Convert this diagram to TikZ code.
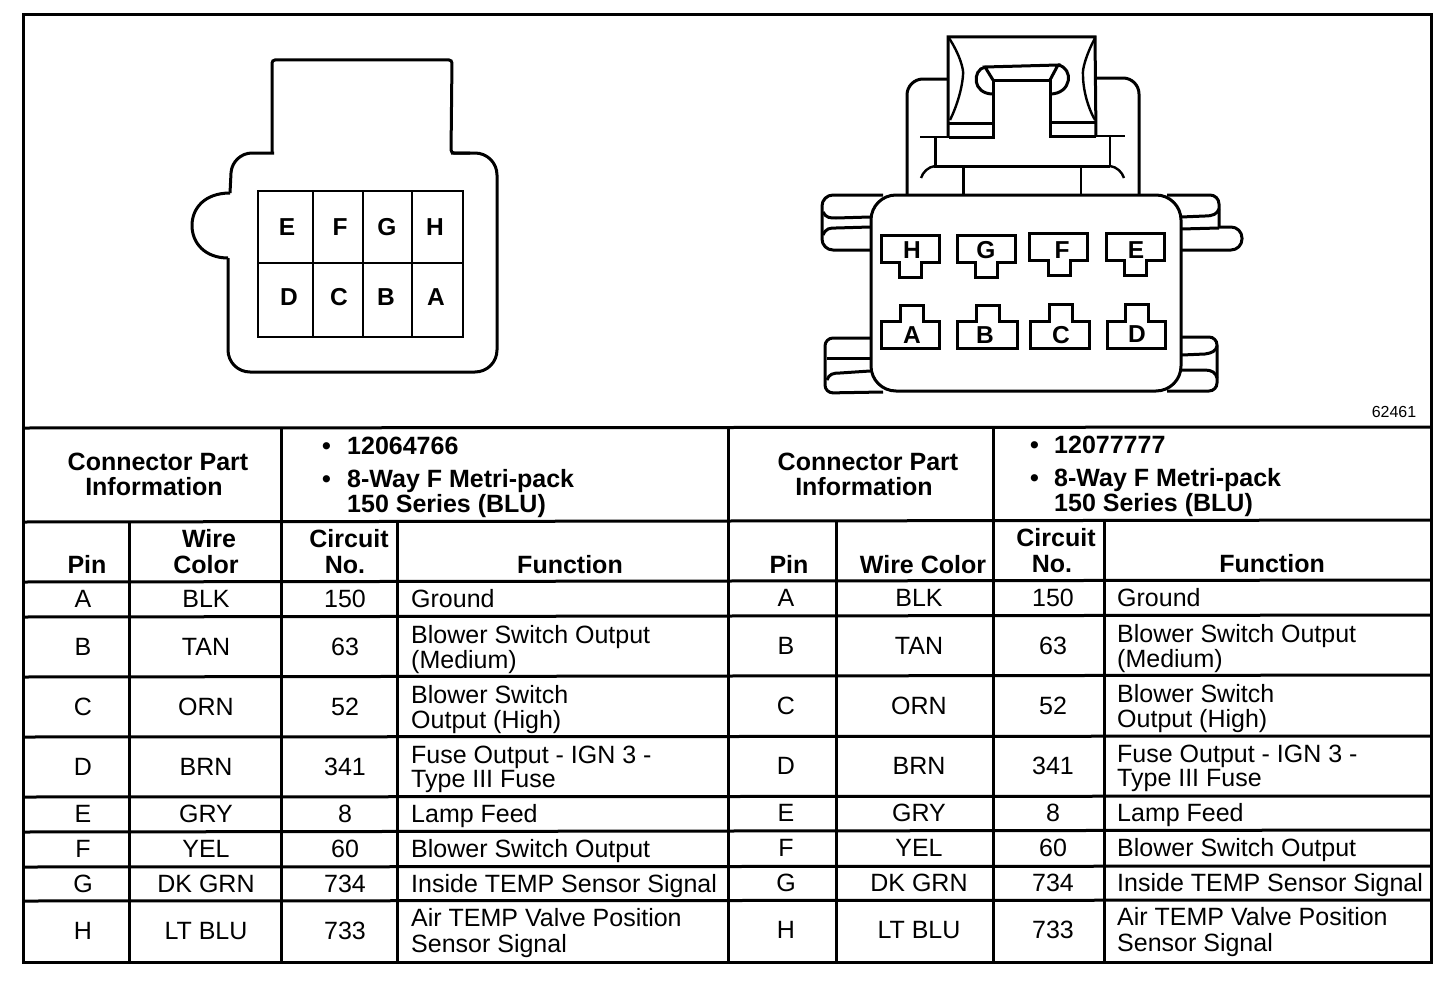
\documentclass[tikz,border=0pt]{standalone}
\usepackage{fontspec}
\setmainfont{Liberation Sans}
\tikzset{
  wire/.style={line width=3pt},
  thinwire/.style={line width=2.4pt},
  txt/.style={anchor=base,inner sep=0pt,font=\fontsize{25}{26}\selectfont},
  txtleft/.style={txt,anchor=base west},
  head/.style={txt,font=\fontsize{25}{26}\selectfont\bfseries},
  headleft/.style={head,anchor=base west},
  pinletter/.style={txt,font=\fontsize{24.5}{26}\selectfont\bfseries}
}
% one half of the pin table: columns, baseline shift
\newcommand{\pinrows}[5]{
  \foreach \yy/\pinname/\wirename/\cirname in {607/A/BLK/150,655/B/TAN/63,715/C/ORN/52,775/D/BRN/341,822/E/GRY/8,857/F/YEL/60,892/G/DK GRN/734,939/H/LT BLU/733}{
    \node[txt] (pin\pinname#1) at (#1,\yy+#5) {\pinname};
    \node[txt] (wire\pinname#1) at (#2,\yy+#5) {\wirename};
    \node[txt] (cir\pinname#1) at (#3,\yy+#5) {\cirname};
  }
  \foreach \yy/\fntext [count=\i] in {607/Ground,643/Blower Switch Output,668/(Medium),703/Blower Switch,728/Output (High),763/Fuse Output - IGN 3 -,787/Type III Fuse,822/Lamp Feed,857/Blower Switch Output,892/Inside TEMP Sensor Signal,926/Air TEMP Valve Position,952/Sensor Signal}{
    \node[txtleft] (fn\i#1) at (#4,\yy+#5) {\fntext};
  }
}
\begin{document}
\begin{tikzpicture}[x=1pt,y=-1pt]
\useasboundingbox (0,0) rectangle (1456,982);
% frame and table rules
\draw[wire] (23,15) rectangle (1431,962);
\foreach \yl/\yr in {428/427,522/520,582/580,617/615,677/675,737/736,797/796,832/830,867/866,901/900}
  \draw[wire] (23,\yl) -- (1431,\yr);
\foreach \xx/\ya in {129/522,281/428,397/522,728/428,836/520,993/427,1104/520}
  \draw[wire] (\xx,\ya) -- (\xx,962);
% left connector
\draw[wire,rounded corners=3pt] (272,153) -- (272,60) -- (452,60) -- (451,153) -- (470,153);
\draw[wire,rounded corners=22pt] (451,153) -- (497,153) -- (497,372) -- (228,372) -- (228,258);
\draw[wire] (228,258) .. controls (205,258) and (192,243) .. (192,225.5) .. controls (192,208) and (205,193) .. (230,193);
\draw[wire,rounded corners=20pt] (230,193) -- (232,153) -- (274,153);
\draw[thinwire] (258,191) rectangle (463,337);
\draw[thinwire] (258,263) -- (463,263);
\foreach \xx in {313,363,412}
  \draw[thinwire] (\xx,191) -- (\xx,337);
\foreach \xx/\yy/\lbl in {287/235/E,340/235/F,387/235/G,435/235/H,289/305/D,339/305/C,386/305/B,436/305/A}
  \node[pinletter] (cav\lbl) at (\xx,\yy) {\lbl};
% right connector, latch
\draw[wire] (948,137) -- (948,37) -- (1095,37) -- (1096,137);
\draw[thinwire] (949,38) .. controls (960,55) and (964,70) .. (963,75) .. controls (962,90) and (956,108) .. (950,120);
\draw[thinwire] (1095,38) .. controls (1086,55) and (1082,70) .. (1083,75) .. controls (1083,90) and (1088,108) .. (1095,120);
\draw[wire] (949,123) -- (993,123) -- (993,80) -- (1050,80) -- (1050,122) -- (1096,122);
\draw[wire] (949,137) -- (993,137) -- (993,123);
\draw[wire] (1096,136) -- (1050,136) -- (1050,122);
\draw[wire] (993,80) -- (985,67) -- (1058,65) -- (1050,80);
\draw[wire] (985,67) .. controls (972,70) and (972,94) .. (993,94);
\draw[wire] (1058,65) .. controls (1074,68) and (1072,94) .. (1050,94);
% right connector, housing behind
\draw[wire,rounded corners=16pt] (948,79) -- (907,79) -- (907,195);
\draw[wire,rounded corners=16pt] (1097,78) -- (1139,78) -- (1139,195);
\draw[thinwire] (920,137) -- (949,137);
\draw[thinwire] (1096,136) -- (1125,136);
\draw[wire] (935,137) -- (935,166) -- (1110,166);
\draw[thinwire] (1110,136) -- (1110,166);
\draw[thinwire] (935,166) .. controls (928,167) and (923,172) .. (921,178);
\draw[thinwire] (1110,166) .. controls (1117,167) and (1122,172) .. (1124,178);
\draw[wire] (963,166) -- (963,195);
\draw[thinwire] (1081,166) -- (1081,195);
% right connector, wings
\draw[wire,rounded corners=11pt] (883,195) -- (822,195) -- (822,250) -- (870,250);
\draw[wire] (823,212) .. controls (826,218) and (830,218) .. (836,218) -- (870,217);
\draw[wire] (823,235) .. controls (826,228) and (830,228) .. (836,228) -- (870,227);
\draw[wire,rounded corners=9pt] (1167,195) -- (1219,195) -- (1219,227);
\draw[wire] (1181,217) -- (1205,216) .. controls (1213,216) and (1217,214) .. (1219,209);
\draw[wire] (1181,229) -- (1219,228);
\draw[wire,rounded corners=11pt] (1219,227) -- (1242,227) -- (1242,250) -- (1182,250);
\draw[wire,rounded corners=8pt] (870,338) -- (825,338) -- (825,393) -- (883,392);
\draw[wire] (827,358) -- (870,358);
\draw[wire] (827,380) .. controls (829,374) and (833,373) .. (840,373) -- (870,371);
\draw[wire,rounded corners=8pt] (1182,337) -- (1217,337) -- (1217,391) -- (1167,391);
\draw[wire] (1182,355) -- (1205,354) .. controls (1212,353) and (1216,351) .. (1217,346);
\draw[wire] (1182,370) -- (1205,370) .. controls (1212,370) and (1216,373) .. (1217,378);
% right connector, body
\draw[wire,fill=white,rounded corners=25pt] (871,195) rectangle (1181,391);
% cavities, both rows
\foreach \xx/\xb/\yt/\lx/\ly/\lbl in {881/899/235/912/258/H,957/975/235/986/258/G,1029/1048/233/1062/258/F,1106/1124/233/1136/258/E}
  \draw[wire] (\xx,\yt) -- ++(58,0) -- ++(0,27) -- (\xb+22,\yt+27) -- ++(0,15) -- ++(-22,0) -- ++(0,-15) -- (\xx,\yt+27) -- cycle
    node[pinletter] (top\lbl) at (\lx,\ly) {\lbl};
\foreach \xx/\xb/\ws/\yt/\lx/\ly/\lbl in {881/900/58/305/912/343/A,957/976/60/305/985/343/B,1030/1049/59/304/1061/343/C,1107/1125/58/304/1137/342/D}
  \draw[wire] (\xx,348) -- ++(\ws,0) -- ++(0,-27) -- (\xb+23,321) -- (\xb+23,\yt) -- (\xb,\yt) -- (\xb,321) -- (\xx,321) -- cycle
    node[pinletter] (bot\lbl) at (\lx,\ly) {\lbl};
\node[txt,font=\fontsize{16}{18}\selectfont] (partno) at (1394,417) {62461};
% header cells
\node[head] (cpa) at (158,470) {Connector Part};
\node[head] (cpb) at (154,495) {Information};
\node[headleft] (blta) at (322,454) {•};
\node[headleft] (numa) at (347,454) {12064766};
\node[headleft] (bltb) at (322,487) {•};
\node[headleft] (waya) at (347,487) {8-Way F Metri-pack};
\node[headleft] (sera) at (347,512) {150 Series (BLU)};
\node[head] (cpc) at (868,470) {Connector Part};
\node[head] (cpd) at (864,495) {Information};
\node[headleft] (bltc) at (1030,453) {•};
\node[headleft] (numb) at (1054,453) {12077777};
\node[headleft] (bltd) at (1030,486) {•};
\node[headleft] (wayb) at (1054,486) {8-Way F Metri-pack};
\node[headleft] (serb) at (1054,511) {150 Series (BLU)};
% column heads
\foreach \xx/\yy/\lbl [count=\i] in {87/573/Pin,209/547/Wire,206/573/Color,349/547/Circuit,345/573/No.,570/573/Function,789/573/Pin,923/573/Wire Color,1056/546/Circuit,1052/572/No.,1272/572/Function}
  \node[head] (col\i) at (\xx,\yy) {\lbl};
\pinrows{83}{206}{345}{411}{0}
\pinrows{786}{919}{1053}{1117}{-1}
\end{tikzpicture}
\end{document}
